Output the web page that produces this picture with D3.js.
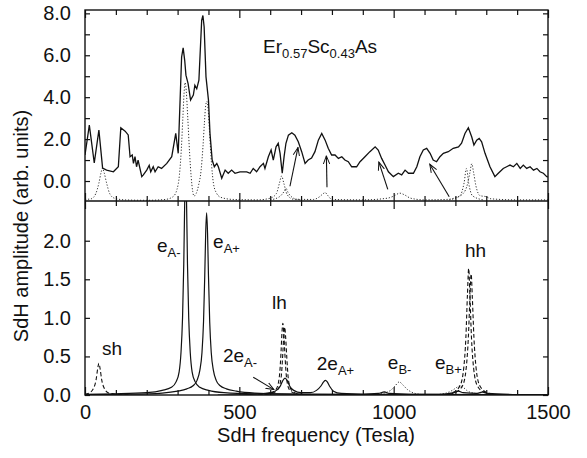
<!DOCTYPE html>
<html>
<head>
<meta charset="utf-8">
<script src="https://cdn.jsdelivr.net/npm/d3@7"></script>
<style>
  body { margin: 0; background: #fff; }
  text { font-family: "Liberation Sans", Arial, Helvetica, sans-serif; fill: #111; }
</style>
</head>
<body>
<div id="chart"></div>
<script>
// ---- top panel: measured spectrum (solid) and fitted peaks (dotted) ----
const topMeasured = [[0,1.24],[14,2.67],[30,0.86],[45,2.43],[57,0.62],[70,0.52],[92,0.44],[108,0.68],[116,2.54],[130,2.38],[140,2.2],[146,1.16],[153,1.24],[157,0.84],[162,1.16],[167,0.68],[172,1.0],[184,0.21],[189,0.29],[200,0.52],[208,0.75],[213,0.44],[221,0.68],[227,0.44],[237,0.68],[248,0.6],[265,0.84],[281,1.16],[294,2.27],[302,1.32],[313,5.92],[318,6.35],[323,5.76],[327,5.05],[334,4.65],[342,3.86],[351,4.1],[356,4.57],[362,4.4],[369,4.81],[378,7.67],[382,7.9],[386,7.35],[392,4.97],[400,3.86],[405,2.27],[412,1.0],[419,0.68],[427,0.84],[432,0.68],[443,0.13],[454,0.52],[464,0.37],[475,0.52],[486,0.37],[502,0.44],[524,0.44],[535,0.37],[545,0.6],[556,0.44],[567,0.68],[578,0.84],[583,0.6],[594,1.16],[603,1.48],[610,1.0],[619,1.63],[626,1.8],[632,1.32],[639,0.37],[645,1.16],[651,1.8],[659,2.19],[670,2.3],[680,2.19],[691,1.87],[702,1.4],[713,0.84],[723,1.0],[734,1.1],[745,1.4],[756,1.95],[767,2.27],[778,1.95],[788,1.56],[799,1.24],[810,1.24],[821,1.08],[832,1.16],[842,1.0],[853,0.92],[864,0.68],[880,0.68],[891,0.92],[907,1.16],[923,1.4],[940,1.63],[950,1.48],[961,1.08],[972,0.76],[983,0.44],[999,0.21],[1015,0.37],[1026,0.29],[1037,0.52],[1048,0.37],[1064,0.37],[1075,0.68],[1085,1.16],[1096,1.48],[1107,1.56],[1118,1.32],[1128,1.0],[1139,0.92],[1150,1.16],[1161,1.32],[1177,1.4],[1193,1.56],[1210,1.63],[1220,1.8],[1231,2.27],[1242,2.54],[1253,2.1],[1260,1.72],[1269,1.95],[1277,2.03],[1285,1.87],[1296,1.32],[1312,0.68],[1328,0.21],[1339,0.37],[1355,0.6],[1366,0.68],[1377,0.76],[1388,0.68],[1399,0.84],[1410,0.6],[1420,0.76],[1431,0.6],[1442,0.68],[1453,0.52],[1464,0.6],[1474,0.44],[1485,0.37],[1496,0.21],[1500,0.2]];

const topFit = [[0,-0.88],[20,-0.85],[35,-0.6],[45,-0.1],[52,0.4],[57,0.62],[62,0.4],[70,-0.1],[80,-0.6],[95,-0.82],[130,-0.9],[200,-0.92],[260,-0.88],[285,-0.75],[298,-0.4],[306,0.3],[312,1.5],[317,3.0],[321,4.2],[324,4.7],[328,4.3],[333,3.0],[339,1.3],[344,0.2],[349,-0.5],[353,-0.72],[360,-0.6],[368,-0.2],[376,0.5],[382,1.6],[387,2.8],[391,3.6],[395,3.8],[399,3.4],[404,2.2],[410,0.8],[416,-0.1],[425,-0.55],[440,-0.78],[480,-0.88],[560,-0.9],[600,-0.82],[620,-0.6],[630,-0.1],[637,0.24],[644,-0.1],[655,-0.65],[675,-0.87],[740,-0.88],[760,-0.75],[772,-0.6],[778,-0.55],[786,-0.68],[800,-0.88],[900,-0.9],[980,-0.82],[1000,-0.72],[1020,-0.58],[1035,-0.66],[1055,-0.82],[1100,-0.9],[1170,-0.88],[1200,-0.8],[1225,-0.6],[1240,-0.1],[1247,0.4],[1253,0.82],[1259,0.4],[1266,-0.2],[1280,-0.7],[1300,-0.75],[1315,-0.85],[1400,-0.9],[1500,-0.9]];
const topFit2 = [[600,-0.9],[630,-0.75],[645,-0.5],[651,-0.35],[658,-0.55],[680,-0.85],[700,-0.9]];
const topFit3 = [[1180,-0.9],[1215,-0.7],[1228,-0.1],[1236,0.6],[1243,-0.1],[1255,-0.7],[1290,-0.9]];

// arrows in the top panel: [x1, y1, x2, y2]
const topArrows = [[664,-0.25,690,1.6],[784,-0.3,782,1.2],[981,-0.4,952,0.9],[1180,-0.75,1117,0.8]];

// ---- bottom panel: calculated peaks ----
const eAminus = [[0,0.01],[100,0.015],[200,0.03],[250,0.06],[280,0.1],[295,0.17],[305,0.3],[311,0.55],[316,1.0],[320,1.7],[323,2.5],[326,3.0],[329,2.5],[332,1.7],[336,1.0],[341,0.55],[347,0.3],[357,0.17],[372,0.1],[400,0.06],[450,0.03],[550,0.015],[800,0.008],[1500,0.003]];
const eAplus = [[0,0.005],[150,0.01],[250,0.025],[300,0.05],[330,0.08],[350,0.12],[363,0.19],[372,0.32],[379,0.55],[384,0.95],[388,1.55],[391,2.1],[394,2.36],[397,2.1],[400,1.55],[404,0.95],[409,0.55],[416,0.32],[425,0.19],[438,0.12],[458,0.08],[490,0.05],[550,0.025],[700,0.01],[1500,0.003]];
const harmonics = [[430,0.0],[550,0.01],[600,0.03],[620,0.06],[632,0.11],[640,0.18],[648,0.22],[656,0.18],[664,0.11],[676,0.06],[700,0.03],[730,0.03],[750,0.06],[765,0.12],[773,0.17],[779,0.19],[785,0.17],[793,0.11],[805,0.05],[830,0.02],[900,0.01],[950,0.02],[970,0.04],[985,0.02],[1050,0.01],[1150,0.01],[1195,0.03],[1210,0.05],[1225,0.03],[1270,0.02],[1290,0.04],[1305,0.02],[1400,0.005],[1500,0.0]];
const shPeak = [[0,0.01],[15,0.03],[28,0.09],[36,0.2],[41,0.34],[45,0.41],[49,0.34],[54,0.2],[62,0.09],[75,0.03],[100,0.01],[150,0.0]];
const lhPeakA = [[560,0.0],[600,0.02],[620,0.08],[630,0.25],[635,0.55],[638,0.8],[641,0.93],[644,0.8],[648,0.5],[653,0.22],[662,0.07],[680,0.02],[720,0.0]];
const lhPeakB = [[565,0.0],[605,0.02],[626,0.08],[636,0.25],[641,0.55],[644,0.78],[647,0.88],[650,0.75],[654,0.47],[659,0.2],[668,0.07],[686,0.02],[725,0.0]];
const hhPeakA = [[1150,0.0],[1190,0.03],[1215,0.12],[1227,0.35],[1234,0.75],[1239,1.3],[1243,1.64],[1247,1.3],[1252,0.75],[1259,0.35],[1271,0.12],[1295,0.03],[1340,0.0]];
const hhPeakB = [[1160,0.0],[1198,0.03],[1223,0.12],[1235,0.35],[1242,0.75],[1247,1.25],[1251,1.57],[1255,1.25],[1260,0.75],[1267,0.35],[1279,0.12],[1303,0.03],[1350,0.0]];
const eBminus = [[900,0.0],[960,0.02],[990,0.06],[1005,0.12],[1018,0.17],[1030,0.13],[1045,0.07],[1070,0.02],[1110,0.0]];
const eBplus = [[1120,0.0],[1165,0.02],[1190,0.06],[1205,0.1],[1215,0.12],[1225,0.1],[1240,0.05],[1265,0.02],[1300,0.0]];

const bottomArrows = [[545,0.23,612,0.07]];

// peak labels: [main, subscript, x, y] in data units of the bottom panel
const peakLabels = [["sh","",55,0.52],["e","A-",233,1.86],["e","A+",415,1.91],["lh","",606,1.12],["2e","A-",447,0.43],["2e","A+",751,0.32],["e","B-",981,0.34],["e","B+",1134,0.34],["hh","",1231,1.79]];

const xTicks = d3.range(0, 1501, 100);
const xLabels = [0, 500, 1000, 1500];
const topTicks = d3.range(0, 9, 1);
const bottomTicks = [0, 0.5, 1.0, 1.5, 2.0];

const W = 587, H = 458;
const x = d3.scaleLinear().domain([0, 1500]).range([85, 548]);
const yTop = d3.scaleLinear().domain([-0.954, 8.16]).range([201, 10]);
const yBot = d3.scaleLinear().domain([0, 2.515]).range([395, 201]);

const svg = d3.select("#chart").append("svg")
    .attr("width", W).attr("height", H);

const defs = svg.append("defs");
defs.append("clipPath").attr("id", "clipTop").append("rect")
    .attr("x", 85).attr("y", 10).attr("width", 463).attr("height", 191);
defs.append("clipPath").attr("id", "clipBot").append("rect")
    .attr("x", 85).attr("y", 201).attr("width", 463).attr("height", 194);
defs.append("marker").attr("id", "head")
    .attr("viewBox", "0 -5 10 10").attr("refX", 9).attr("refY", 0)
    .attr("markerWidth", 9).attr("markerHeight", 9).attr("markerUnits", "userSpaceOnUse")
    .attr("orient", "auto")
    .append("path").attr("d", "M0,-3.5L9,0L0,3.5").attr("fill", "none")
    .attr("stroke", "#111").attr("stroke-width", 1.1);

const lineTop = d3.line().x(d => x(d[0])).y(d => yTop(d[1])).curve(d3.curveMonotoneX);
const lineBot = d3.line().x(d => x(d[0])).y(d => yBot(d[1])).curve(d3.curveMonotoneX);

// ---- curves ----
const gTop = svg.append("g").attr("clip-path", "url(#clipTop)");
[topFit, topFit2, topFit3].forEach(s => {
    gTop.append("path").datum(s).attr("d", lineTop)
        .attr("fill", "none").attr("stroke", "#333").attr("stroke-width", 1)
        .attr("stroke-dasharray", "1.2,1.8");
});
gTop.append("path").datum(topMeasured).attr("d", lineTop.curve(d3.curveLinear))
    .attr("fill", "none").attr("stroke", "#111").attr("stroke-width", 1.3);

gTop.selectAll(".arrow").data(topArrows).enter().append("line")
    .attr("x1", d => x(d[0])).attr("y1", d => yTop(d[1]))
    .attr("x2", d => x(d[2])).attr("y2", d => yTop(d[3]))
    .attr("stroke", "#111").attr("stroke-width", 1.1)
    .attr("marker-end", "url(#head)");

const gBot = svg.append("g").attr("clip-path", "url(#clipBot)");
[eBminus, eBplus].forEach(s => {
    gBot.append("path").datum(s).attr("d", lineBot)
        .attr("fill", "none").attr("stroke", "#333").attr("stroke-width", 1)
        .attr("stroke-dasharray", "1.2,1.8");
});
[shPeak, lhPeakA, lhPeakB, hhPeakA, hhPeakB].forEach(s => {
    gBot.append("path").datum(s).attr("d", lineBot)
        .attr("fill", "none").attr("stroke", "#111").attr("stroke-width", 1.1)
        .attr("stroke-dasharray", "4,2.5");
});
[eAminus, eAplus, harmonics].forEach(s => {
    gBot.append("path").datum(s).attr("d", lineBot)
        .attr("fill", "none").attr("stroke", "#111").attr("stroke-width", 1.2);
});
svg.selectAll(".barrow").data(bottomArrows).enter().append("line")
    .attr("x1", d => x(d[0])).attr("y1", d => yBot(d[1]))
    .attr("x2", d => x(d[2])).attr("y2", d => yBot(d[3]))
    .attr("stroke", "#111").attr("stroke-width", 1.1)
    .attr("marker-end", "url(#head)");

// ---- axes (ticks point inward) ----
function styleAxis(g) {
    g.select(".domain").remove();
    g.selectAll(".tick line").attr("stroke", "#111").attr("stroke-width", 1.2);
    g.selectAll("text").attr("font-size", 20).attr("fill", "#111")
        .attr("font-family", "'Liberation Sans', Arial, sans-serif");
}
function longMajor(g, sign) {
    g.selectAll(".tick line").attr("y2", d => (d % 500 === 0 ? 8 : 5) * sign);
}

svg.append("g").attr("transform", "translate(0,395)")
    .call(d3.axisBottom(x).tickValues(xTicks).tickSizeInner(-5).tickSizeOuter(0).tickPadding(10)
        .tickFormat(d => xLabels.includes(d) ? d : ""))
    .call(styleAxis).call(g => longMajor(g, -1));
svg.append("g").attr("transform", "translate(0,10)")
    .call(d3.axisTop(x).tickValues(xTicks).tickSizeInner(-5).tickSizeOuter(0).tickFormat(""))
    .call(styleAxis).call(g => longMajor(g, 1));
svg.append("g").attr("transform", "translate(0,201)")
    .call(d3.axisTop(x).tickValues(xTicks).tickSizeInner(5).tickSizeOuter(0).tickFormat(""))
    .call(styleAxis).call(g => longMajor(g, -1));
svg.append("g").attr("transform", "translate(0,201)")
    .call(d3.axisBottom(x).tickValues(xTicks).tickSizeInner(5).tickSizeOuter(0).tickFormat(""))
    .call(styleAxis).call(g => longMajor(g, 1));

svg.append("g").attr("transform", "translate(85,0)")
    .call(d3.axisLeft(yTop).tickValues(topTicks).tickSizeInner(-5).tickSizeOuter(0).tickPadding(14)
        .tickFormat(d => d % 2 === 0 ? d3.format(".1f")(d) : ""))
    .call(styleAxis);
svg.append("g").attr("transform", "translate(548,0)")
    .call(d3.axisRight(yTop).tickValues(topTicks).tickSizeInner(-5).tickSizeOuter(0).tickFormat(""))
    .call(styleAxis);
svg.append("g").attr("transform", "translate(85,0)")
    .call(d3.axisLeft(yBot).tickValues(bottomTicks).tickSizeInner(-5).tickSizeOuter(0).tickPadding(14)
        .tickFormat(d3.format(".1f")))
    .call(styleAxis);
svg.append("g").attr("transform", "translate(548,0)")
    .call(d3.axisRight(yBot).tickValues(bottomTicks).tickSizeInner(-5).tickSizeOuter(0).tickFormat(""))
    .call(styleAxis);

// frame
svg.append("rect").attr("x", 85).attr("y", 10).attr("width", 463).attr("height", 385)
    .attr("fill", "none").attr("stroke", "#111").attr("stroke-width", 1.4);
svg.append("line").attr("x1", 85).attr("x2", 548).attr("y1", 201).attr("y2", 201)
    .attr("stroke", "#111").attr("stroke-width", 1.4);

// ---- labels ----
const titleParts = [["Er", false], ["0.57", true], ["Sc", false], ["0.43", true], ["As", false]];
const title = svg.append("text").attr("x", x(577)).attr("y", yTop(6.1)).attr("font-size", 19);
titleParts.forEach((p, i) => {
    title.append("tspan").text(p[0])
        .attr("font-size", p[1] ? 13 : 19)
        .attr("dy", i === 0 ? 0 : (p[1] ? 5 : -5));
});

peakLabels.forEach(l => {
    const t = svg.append("text").attr("x", x(l[2])).attr("y", yBot(l[3])).attr("font-size", 19);
    t.append("tspan").text(l[0]);
    if (l[1]) t.append("tspan").text(l[1]).attr("font-size", 13).attr("dy", 5);
});

svg.append("text").attr("x", 316).attr("y", 442).attr("text-anchor", "middle")
    .attr("font-size", 20).text("SdH frequency (Tesla)");
svg.append("text").attr("transform", "translate(28,226) rotate(-90)")
    .attr("text-anchor", "middle").attr("font-size", 20).text("SdH amplitude (arb. units)");
</script>
</body>
</html>
